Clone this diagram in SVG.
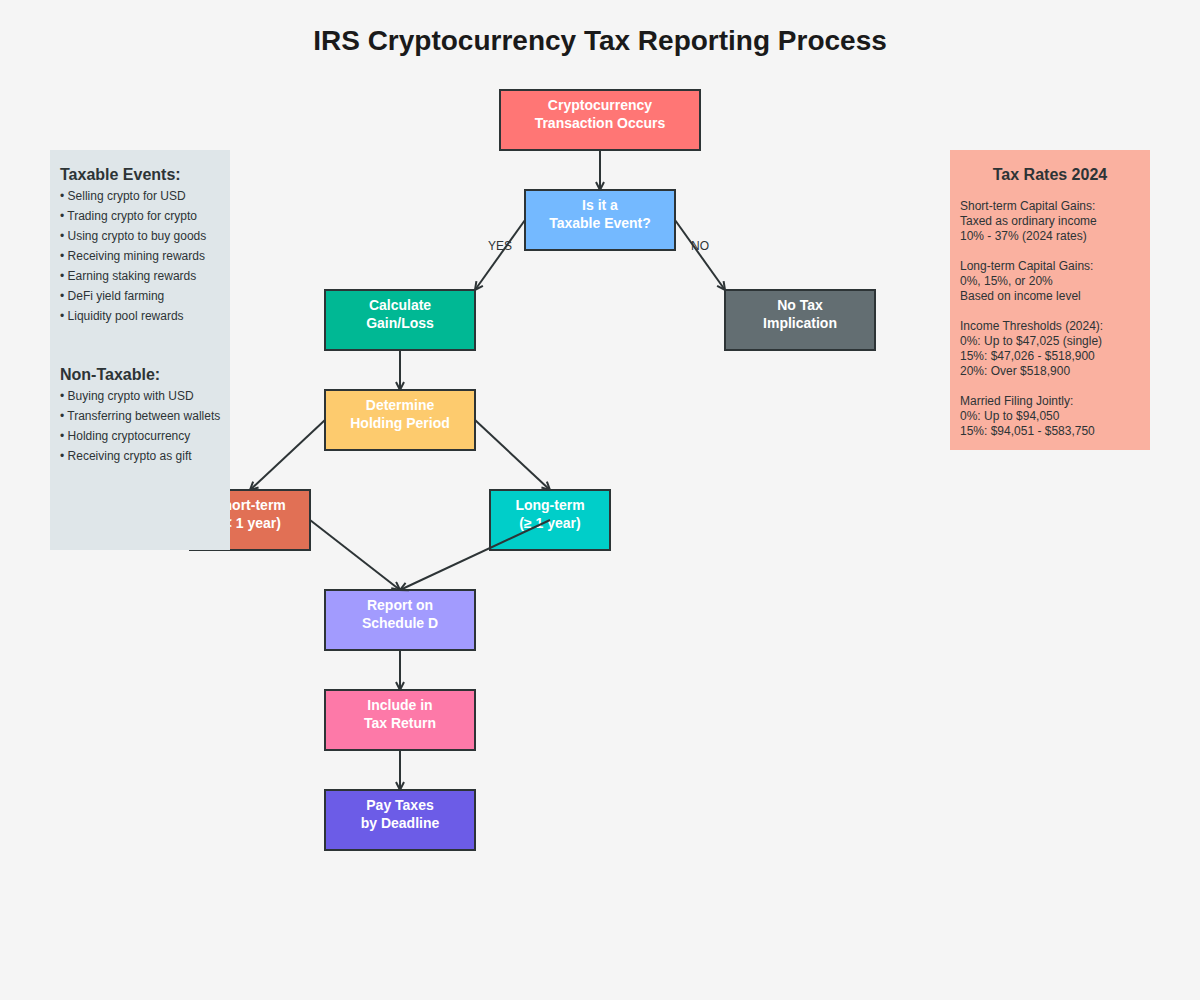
<svg xmlns="http://www.w3.org/2000/svg" width="1200" height="1000" viewBox="0 0 1200 1000">
<defs>
<marker id="arr" viewBox="0 0 10 10" refX="9" refY="5" markerWidth="10" markerHeight="10" markerUnits="userSpaceOnUse" orient="auto">
<path d="M1,1 L9,5 L1,9" fill="none" stroke="#2d3436" stroke-width="2"/>
</marker>
</defs>
<style>
.node rect{stroke:#2d3436;stroke-width:2}
.node text{font-family:"Liberation Sans",Arial,sans-serif;font-size:14px;font-weight:bold;fill:#fff;text-anchor:middle}
.conn line{stroke:#2d3436;stroke-width:2;marker-end:url(#arr)}
.lbl{font-family:"Liberation Sans",Arial,sans-serif;font-size:12px;fill:#2d3436;text-anchor:middle}
.ph{font-family:"Liberation Sans",Arial,sans-serif;font-size:16px;font-weight:bold;fill:#2d3436}
.pt{font-family:"Liberation Sans",Arial,sans-serif;font-size:12px;fill:#2d3436}
</style>
<rect width="1200" height="1000" fill="#f5f5f5"/>
<text x="600" y="50" text-anchor="middle" font-family="'Liberation Sans',Arial,sans-serif" font-size="28" font-weight="bold" fill="#1a1a1a">IRS Cryptocurrency Tax Reporting Process</text>

<g id="node-transaction" class="node"><rect x="500" y="90" width="200" height="60" fill="#ff7675"/><text x="600" y="110">Cryptocurrency</text><text x="600" y="128">Transaction Occurs</text></g>
<g id="node-taxable" class="node"><rect x="525" y="190" width="150" height="60" fill="#74b9ff"/><text x="600" y="210">Is it a</text><text x="600" y="228">Taxable Event?</text></g>
<g id="node-calculate" class="node"><rect x="325" y="290" width="150" height="60" fill="#00b894"/><text x="400" y="310">Calculate</text><text x="400" y="328">Gain/Loss</text></g>
<g id="node-notax" class="node"><rect x="725" y="290" width="150" height="60" fill="#636e72"/><text x="800" y="310">No Tax</text><text x="800" y="328">Implication</text></g>
<g id="node-holding" class="node"><rect x="325" y="390" width="150" height="60" fill="#fdcb6e"/><text x="400" y="410">Determine</text><text x="400" y="428">Holding Period</text></g>
<g id="node-short" class="node"><rect x="190" y="490" width="120" height="60" fill="#e17055"/><text x="250" y="510">Short-term</text><text x="250" y="528">(&lt; 1 year)</text></g>
<g id="node-long" class="node"><rect x="490" y="490" width="120" height="60" fill="#00cec9"/><text x="550" y="510">Long-term</text><text x="550" y="528">(≥ 1 year)</text></g>
<g id="node-report" class="node"><rect x="325" y="590" width="150" height="60" fill="#a29bfe"/><text x="400" y="610">Report on</text><text x="400" y="628">Schedule D</text></g>
<g id="node-include" class="node"><rect x="325" y="690" width="150" height="60" fill="#fd79a8"/><text x="400" y="710">Include in</text><text x="400" y="728">Tax Return</text></g>
<g id="node-pay" class="node"><rect x="325" y="790" width="150" height="60" fill="#6c5ce7"/><text x="400" y="810">Pay Taxes</text><text x="400" y="828">by Deadline</text></g>

<g id="connectors" class="conn">
<line x1="600" y1="150" x2="600" y2="190"/>
<line x1="525" y1="220" x2="475" y2="290"/>
<line x1="675" y1="220" x2="725" y2="290"/>
<line x1="400" y1="350" x2="400" y2="390"/>
<line x1="325" y1="420" x2="250" y2="490"/>
<line x1="475" y1="420" x2="550" y2="490"/>
<line x1="310" y1="520" x2="400" y2="590"/>
<line x1="550" y1="520" x2="400" y2="590"/>
<line x1="400" y1="650" x2="400" y2="690"/>
<line x1="400" y1="750" x2="400" y2="790"/>
</g>
<g id="connector-labels">
<text class="lbl" x="500" y="250">YES</text>
<text class="lbl" x="700" y="250">NO</text>
</g>

<g id="panel-events">
<rect x="50" y="150" width="180" height="400" fill="#dfe6e9"/>
<text class="ph" x="60" y="180">Taxable Events:</text>
<text class="pt" x="60" y="200">• Selling crypto for USD</text>
<text class="pt" x="60" y="220">• Trading crypto for crypto</text>
<text class="pt" x="60" y="240">• Using crypto to buy goods</text>
<text class="pt" x="60" y="260">• Receiving mining rewards</text>
<text class="pt" x="60" y="280">• Earning staking rewards</text>
<text class="pt" x="60" y="300">• DeFi yield farming</text>
<text class="pt" x="60" y="320">• Liquidity pool rewards</text>
<text class="ph" x="60" y="380">Non-Taxable:</text>
<text class="pt" x="60" y="400">• Buying crypto with USD</text>
<text class="pt" x="60" y="420">• Transferring between wallets</text>
<text class="pt" x="60" y="440">• Holding cryptocurrency</text>
<text class="pt" x="60" y="460">• Receiving crypto as gift</text>
</g>

<g id="panel-rates">
<rect x="950" y="150" width="200" height="300" fill="#fab1a0"/>
<text class="ph" x="1050" y="180" text-anchor="middle">Tax Rates 2024</text>
<text class="pt" x="960" y="210">Short-term Capital Gains:</text>
<text class="pt" x="960" y="225">Taxed as ordinary income</text>
<text class="pt" x="960" y="240">10% - 37% (2024 rates)</text>
<text class="pt" x="960" y="270">Long-term Capital Gains:</text>
<text class="pt" x="960" y="285">0%, 15%, or 20%</text>
<text class="pt" x="960" y="300">Based on income level</text>
<text class="pt" x="960" y="330">Income Thresholds (2024):</text>
<text class="pt" x="960" y="345">0%: Up to $47,025 (single)</text>
<text class="pt" x="960" y="360">15%: $47,026 - $518,900</text>
<text class="pt" x="960" y="375">20%: Over $518,900</text>
<text class="pt" x="960" y="405">Married Filing Jointly:</text>
<text class="pt" x="960" y="420">0%: Up to $94,050</text>
<text class="pt" x="960" y="435">15%: $94,051 - $583,750</text>
</g>
</svg>
